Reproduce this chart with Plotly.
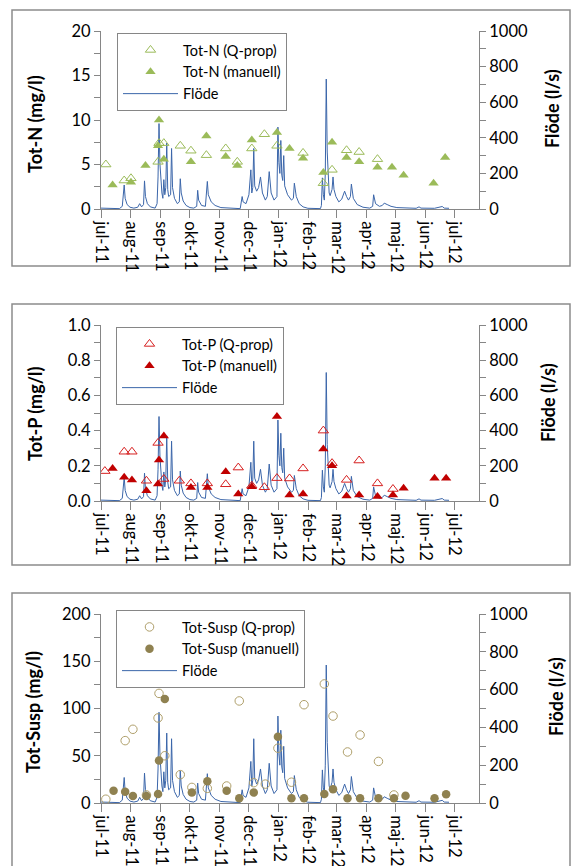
import plotly.graph_objects as go

# ---------------- data ----------------
month_ticks = ["2011-07-01", "2011-08-01", "2011-09-01", "2011-10-01", "2011-11-01", "2011-12-01",
               "2012-01-01", "2012-02-01", "2012-03-01", "2012-04-01", "2012-05-01", "2012-06-01",
               "2012-07-01"]
month_labels = ["jul-11", "aug-11", "sep-11", "okt-11", "nov-11", "dec-11", "jan-12", "feb-12",
                "mar-12", "apr-12", "maj-12", "jun-12", "jul-12"]

flow_dates = ["2011-07-01", "2011-07-10", "2011-07-20", "2011-07-23", "2011-07-25", "2011-07-26",
              "2011-07-28", "2011-07-31", "2011-08-04", "2011-08-08", "2011-08-10", "2011-08-12",
              "2011-08-14", "2011-08-15", "2011-08-16", "2011-08-18", "2011-08-21", "2011-08-26",
              "2011-08-28", "2011-08-29", "2011-08-30", "2011-08-31", "2011-09-01", "2011-09-02",
              "2011-09-03", "2011-09-04", "2011-09-05", "2011-09-06", "2011-09-07", "2011-09-08",
              "2011-09-09", "2011-09-11", "2011-09-12", "2011-09-13", "2011-09-15", "2011-09-18",
              "2011-09-20", "2011-09-21", "2011-09-22", "2011-09-24", "2011-09-27", "2011-10-01",
              "2011-10-05", "2011-10-08", "2011-10-09", "2011-10-10", "2011-10-13", "2011-10-17",
              "2011-10-19", "2011-10-20", "2011-10-23", "2011-10-27", "2011-11-02", "2011-11-12",
              "2011-11-22", "2011-11-24", "2011-11-25", "2011-11-28", "2011-12-01", "2011-12-03",
              "2011-12-04", "2011-12-05", "2011-12-06", "2011-12-07", "2011-12-09", "2011-12-11",
              "2011-12-13", "2011-12-15", "2011-12-18", "2011-12-20", "2011-12-22", "2011-12-24",
              "2011-12-27", "2011-12-30", "2011-12-31", "2012-01-01", "2012-01-02", "2012-01-03",
              "2012-01-04", "2012-01-05", "2012-01-06", "2012-01-07", "2012-01-10", "2012-01-14",
              "2012-01-16", "2012-01-17", "2012-01-19", "2012-01-22", "2012-01-26", "2012-01-31",
              "2012-02-13", "2012-02-14", "2012-02-15", "2012-02-16", "2012-02-17", "2012-02-18",
              "2012-02-19", "2012-02-20", "2012-02-21", "2012-02-22", "2012-02-23", "2012-02-25",
              "2012-02-26", "2012-02-27", "2012-02-29", "2012-03-03", "2012-03-06", "2012-03-09",
              "2012-03-11", "2012-03-13", "2012-03-15", "2012-03-16", "2012-03-18", "2012-03-22",
              "2012-03-28", "2012-04-04", "2012-04-07", "2012-04-08", "2012-04-10", "2012-04-14",
              "2012-04-17", "2012-04-19", "2012-04-22", "2012-04-26", "2012-05-02", "2012-05-12",
              "2012-05-22", "2012-05-25", "2012-05-27", "2012-06-10", "2012-06-18", "2012-06-20",
              "2012-06-25"]
flow_values = [5, 3, 2, 15, 135, 60,
               25, 10, 5, 10, 30, 12,
               25, 158, 70, 30, 12, 5,
               30, 180, 480, 250, 150, 90,
               60, 165, 80, 120, 370, 110,
               70, 80, 340, 120, 60, 30,
               40, 170, 90, 45, 20, 8,
               5, 15, 105, 50, 20, 15,
               155, 80, 40, 20, 8, 3,
               2, 70, 40, 30, 80, 220,
               90, 120, 340, 130, 100, 120,
               180, 90, 50, 70, 210, 90,
               50, 70, 460, 260, 200, 385,
               190, 160, 300, 130, 80, 50,
               60, 145, 70, 30, 12, 4,
               2, 20, 175, 80, 50, 200,
               730, 320, 150, 90, 75, 110,
               180, 110, 70, 40, 55, 100,
               70, 50, 70, 140, 60, 25,
               10, 5, 15, 80, 30, 15,
               20, 33, 25, 15, 8, 5,
               4, 12, 5, 4, 14, 5,
               4]

n_qprop_dates = ["2011-07-06", "2011-07-25", "2011-08-01", "2011-08-29", "2011-08-30", "2011-09-04",
                 "2011-09-21", "2011-10-02", "2011-10-18", "2011-11-07", "2011-11-19", "2011-12-04",
                 "2011-12-17", "2011-12-30", "2012-01-26", "2012-02-16", "2012-02-25", "2012-03-11",
                 "2012-03-24", "2012-04-12"]
n_qprop = [5.0, 3.2, 3.45, 5.3, 7.4, 7.4, 7.1, 6.55, 6.05, 6.8, 5.3, 6.8, 8.4, 7.1, 6.3, 2.9, 4.4,
           6.6, 6.4, 5.6]
n_man_dates = ["2011-07-13", "2011-08-01", "2011-08-16", "2011-08-29", "2011-08-30", "2011-09-04",
               "2011-10-02", "2011-10-18", "2011-11-07", "2011-11-19", "2011-12-04", "2011-12-30",
               "2012-01-12", "2012-01-26", "2012-02-16", "2012-02-25", "2012-03-11", "2012-03-24",
               "2012-04-12", "2012-04-27", "2012-05-09", "2012-06-09", "2012-06-21"]
n_man = [2.7, 3.0, 4.9, 7.1, 10.0, 5.6, 5.3, 8.2, 5.9, 4.9, 7.75, 8.6, 6.8, 5.7, 4.1, 7.5, 5.8,
         5.3, 4.7, 4.7, 3.8, 2.9, 5.8]

p_qprop_dates = ["2011-07-05", "2011-07-25", "2011-08-02", "2011-08-17", "2011-08-29", "2011-09-04",
                 "2011-09-20", "2011-10-02", "2011-10-19", "2011-11-07", "2011-11-20", "2011-12-04",
                 "2011-12-17", "2011-12-30", "2012-01-12", "2012-01-26", "2012-02-16", "2012-02-25",
                 "2012-03-11", "2012-03-24", "2012-04-12", "2012-04-28"]
p_qprop = [0.17, 0.28, 0.28, 0.115, 0.33, 0.125, 0.115, 0.10, 0.10, 0.095, 0.19, 0.087, 0.078,
           0.13, 0.128, 0.185, 0.40, 0.215, 0.12, 0.23, 0.10, 0.068]
p_man_dates = ["2011-07-13", "2011-07-25", "2011-08-02", "2011-08-17", "2011-08-29", "2011-08-30",
               "2011-09-04", "2011-10-02", "2011-10-19", "2011-11-07", "2011-11-20", "2011-12-04",
               "2011-12-30", "2012-01-12", "2012-01-26", "2012-02-16", "2012-02-25", "2012-03-11",
               "2012-03-24", "2012-04-12", "2012-04-28", "2012-05-09", "2012-06-10", "2012-06-22"]
p_man = [0.185, 0.135, 0.12, 0.058, 0.097, 0.233, 0.37, 0.076, 0.076, 0.166, 0.04, 0.081, 0.48,
         0.034, 0.04, 0.295, 0.20, 0.028, 0.034, 0.025, 0.034, 0.072, 0.129, 0.129]

s_qprop_dates = ["2011-07-06", "2011-07-26", "2011-08-03", "2011-08-17", "2011-08-29", "2011-08-30",
                 "2011-09-05", "2011-09-21", "2011-10-03", "2011-10-19", "2011-11-08", "2011-11-21",
                 "2011-12-06", "2011-12-18", "2011-12-31", "2012-01-14", "2012-01-27", "2012-02-17",
                 "2012-02-26", "2012-03-12", "2012-03-25", "2012-04-13", "2012-04-29"]
s_qprop = [4, 66, 78, 8.5, 90, 116, 50, 30, 16.5, 15.5, 18, 108, 21.5, 20, 58, 22, 104, 126, 92,
           54, 72, 44, 8.5]
s_man_dates = ["2011-07-14", "2011-07-26", "2011-08-03", "2011-08-17", "2011-08-29", "2011-08-30",
               "2011-09-05", "2011-10-03", "2011-10-19", "2011-11-08", "2011-11-21", "2011-12-06",
               "2011-12-31", "2012-01-14", "2012-01-27", "2012-02-17", "2012-02-26", "2012-03-12",
               "2012-03-25", "2012-04-13", "2012-04-29", "2012-05-11", "2012-06-10", "2012-06-22"]
s_man = [13, 12, 7.4, 7.4, 9.5, 45, 110, 11, 23, 13, 5, 11, 70, 5, 5, 9.5, 14.5, 5, 5, 5, 5, 7.7,
         5, 9.2]

# ---------------- layout helpers ----------------
W, H = 572, 866
FONT = "Lato, 'Open Sans', sans-serif"
AXC = "#868686"
FLOW_C = "#3B66AA"


def px(x):
    return x / W


def py(y):
    return 1 - y / H


panels = [
    dict(rng=[0, 20], dtick=5, minor=2.5, fmt="", top=31, bot=209, leg=(117, 33),
         ytitle="Tot-N (mg/l)", ytx=35, yty=124, rtx=552, rty=109, box=(10, 266)),
    dict(rng=[0, 1.0], dtick=0.2, minor=0.1, fmt=".1f", top=325, bot=501, leg=(116, 327),
         ytitle="Tot-P (mg/l)", ytx=35, yty=414, rtx=548, rty=403, box=(304, 565)),
    dict(rng=[0, 200], dtick=50, minor=25, fmt="", top=614, bot=803, leg=(116, 610),
         ytitle="Tot-Susp (mg/l)", ytx=33, yty=712, rtx=556, rty=697, box=(593, 880)),
]

series = [
    dict(qd=n_qprop_dates, qv=n_qprop, md=n_man_dates, mv=n_man, name="Tot-N",
         sym="triangle-up", col="#9BBB59", qcol="#9BBB59", size=9),
    dict(qd=p_qprop_dates, qv=p_qprop, md=p_man_dates, mv=p_man, name="Tot-P",
         sym="triangle-up", col="#C00000", qcol="#D62020", size=9),
    dict(qd=s_qprop_dates, qv=s_qprop, md=s_man_dates, mv=s_man, name="Tot-Susp",
         sym="circle", col="#8F8150", qcol="#AF9F6A", size=8.5),
]

fig = go.Figure()
layout = dict(width=W, height=H, margin=dict(l=0, r=0, t=0, b=0, autoexpand=False),
              paper_bgcolor="white", plot_bgcolor="white", showlegend=True,
              font=dict(family=FONT, color="black"))
shapes, annotations = [], []

for i, (p, s) in enumerate(zip(panels, series)):
    k = i + 1
    xa = "xaxis" if k == 1 else f"xaxis{k}"
    xr = "x" if k == 1 else f"x{k}"
    fy = 2 * k - 1  # flow axis (base, right side)
    cy = 2 * k      # concentration axis (overlaying, left side)
    fya = "yaxis" if fy == 1 else f"yaxis{fy}"
    fyr = "y" if fy == 1 else f"y{fy}"
    cya = f"yaxis{cy}"
    cyr = f"y{cy}"
    leg = "legend" if k == 1 else f"legend{k}"

    dom_y = [py(p["bot"]), py(p["top"])]
    layout[xa] = dict(domain=[px(101), px(479)], anchor=fyr, type="date", automargin=False,
                      range=["2011-07-01", "2012-07-26"], tickmode="array",
                      tickvals=month_ticks, ticktext=month_labels, tickangle=90,
                      ticks="outside", ticklen=8, tickcolor=AXC, showline=True,
                      linecolor=AXC, linewidth=1, showgrid=False, zeroline=False,
                      tickfont=dict(family=FONT, size=16.5, color="black"))
    layout[fya] = dict(domain=dom_y, anchor=xr, side="right", range=[0, 1000], dtick=200,
                       automargin=False,
                       ticks="outside", ticklen=6, tickcolor=AXC, showline=True,
                       linecolor=AXC, linewidth=1, showgrid=False, zeroline=False,
                       minor=dict(dtick=100, ticks="outside", ticklen=6, tickcolor=AXC),
                       tickfont=dict(family=FONT, size=16.5, color="black"))
    layout[cya] = dict(overlaying=fyr, anchor=xr, side="left", range=p["rng"], dtick=p["dtick"],
                       automargin=False,
                       tickformat=p["fmt"], ticks="outside", ticklen=6, tickcolor=AXC,
                       showline=True, linecolor=AXC, linewidth=1, showgrid=False,
                       zeroline=False,
                       minor=dict(dtick=p["minor"], ticks="outside", ticklen=6, tickcolor=AXC),
                       tickfont=dict(family=FONT, size=16.5, color="black"))
    layout[leg] = dict(x=px(p["leg"][0]), y=py(p["leg"][1]), xanchor="left", yanchor="top",
                       bordercolor=AXC, borderwidth=1, bgcolor="white", itemwidth=55,
                       traceorder="normal", tracegroupgap=0,
                       font=dict(family=FONT, size=14.5, color="black"))

    fig.add_trace(go.Scatter(x=flow_dates, y=flow_values, mode="lines", name="Flöde",
                             line=dict(color=FLOW_C, width=1), xaxis=xr, yaxis=fyr,
                             legend=leg, legendrank=3))
    open_sym = s["sym"] + "-open"
    fig.add_trace(go.Scatter(x=s["qd"], y=s["qv"], mode="markers", name=f"{s['name']} (Q-prop)",
                             marker=dict(symbol=open_sym, size=s["size"], color=s["qcol"],
                                         line=dict(width=1, color=s["qcol"])),
                             xaxis=xr, yaxis=cyr, legend=leg, legendrank=1))
    fig.add_trace(go.Scatter(x=s["md"], y=s["mv"], mode="markers", name=f"{s['name']} (manuell)",
                             marker=dict(symbol=s["sym"], size=s["size"], color=s["col"],
                                         line=dict(width=0)),
                             xaxis=xr, yaxis=cyr, legend=leg, legendrank=2))

    shapes.append(dict(type="rect", xref="paper", yref="paper", x0=px(12), x1=px(570),
                       y0=py(p["box"][1]), y1=py(p["box"][0]),
                       line=dict(color="#8C8C8C", width=1.5), layer="below"))
    annotations.append(dict(text=f"<b>{p['ytitle']}</b>", xref="paper", yref="paper",
                            x=px(p["ytx"]), y=py(p["yty"]), textangle=-90, showarrow=False,
                            xanchor="center", yanchor="middle",
                            font=dict(family=FONT, size=18, color="black")))
    annotations.append(dict(text="<b>Flöde (l/s)</b>", xref="paper", yref="paper",
                            x=px(p["rtx"]), y=py(p["rty"]), textangle=-90, showarrow=False,
                            xanchor="center", yanchor="middle",
                            font=dict(family=FONT, size=18, color="black")))

layout["shapes"] = shapes
layout["annotations"] = annotations
fig.update_layout(**layout)
fig.write_html("out.html")
